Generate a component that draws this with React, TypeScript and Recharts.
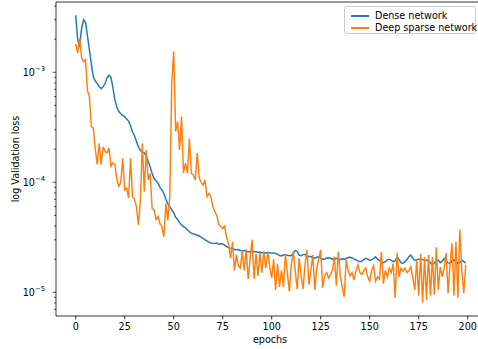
import { LineChart, Line, XAxis, YAxis, ReferenceLine } from 'recharts';

// validation loss per epoch (0..199)
const denseLoss = [
  3.3e-3, 2.0e-3, 1.7e-3, 2.5e-3, 3.0e-3, 2.85e-3, 2.15e-3, 1.6e-3, 1.18e-3, 9.1e-4,
  8.3e-4, 7.9e-4, 7.4e-4, 7.1e-4, 7.4e-4, 7.9e-4, 8.9e-4, 9.4e-4, 9.0e-4, 7.2e-4,
  5.6e-4, 4.8e-4, 4.4e-4, 4.2e-4, 4.05e-4, 3.95e-4, 3.75e-4, 3.6e-4, 3.25e-4, 2.85e-4,
  2.65e-4, 2.35e-4, 2.1e-4, 1.95e-4, 1.88e-4, 1.85e-4, 1.72e-4, 1.55e-4, 1.38e-4, 1.2e-4,
  1.08e-4, 1.03e-4, 9.8e-5, 9.0e-5, 8.5e-5, 7.9e-5, 7.0e-5, 6.4e-5, 6.0e-5, 5.6e-5,
  5.3e-5, 4.8e-5, 4.6e-5, 4.3e-5, 4.1e-5, 3.95e-5, 3.85e-5, 3.7e-5, 3.55e-5, 3.45e-5,
  3.4e-5, 3.35e-5, 3.3e-5, 3.25e-5, 3.17e-5, 3.1e-5, 3.0e-5, 2.93e-5, 2.86e-5, 2.8e-5,
  2.8e-5, 2.77e-5, 2.8e-5, 2.72e-5, 2.78e-5, 2.75e-5, 2.68e-5, 2.6e-5, 2.55e-5, 2.52e-5,
  2.5e-5, 2.45e-5, 2.43e-5, 2.45e-5, 2.4e-5, 2.38e-5, 2.4e-5, 2.36e-5, 2.34e-5, 2.34e-5,
  2.33e-5, 2.35e-5, 2.34e-5, 2.3e-5, 2.32e-5, 2.29e-5, 2.3e-5, 2.28e-5, 2.3e-5, 2.29e-5,
  2.27e-5, 2.28e-5, 2.26e-5, 2.22e-5, 2.16e-5, 2.14e-5, 2.18e-5, 2.2e-5, 2.17e-5, 2.15e-5,
  2.16e-5, 2.25e-5, 2.4e-5, 2.35e-5, 2.18e-5, 2.15e-5, 2.2e-5, 2.21e-5, 2.15e-5, 2.1e-5,
  2.12e-5, 2.06e-5, 2.04e-5, 2.08e-5, 2.1e-5, 2.06e-5, 2.0e-5, 2.0e-5, 2.05e-5, 2.06e-5,
  2.04e-5, 2.0e-5, 2.02e-5, 2.04e-5, 2.0e-5, 1.98e-5, 2.02e-5, 2.0e-5, 2.03e-5, 2.07e-5,
  2.08e-5, 2.05e-5, 2.0e-5, 1.97e-5, 1.93e-5, 1.9e-5, 1.92e-5, 1.98e-5, 2.04e-5, 2.0e-5,
  1.96e-5, 1.97e-5, 2.03e-5, 2.1e-5, 2.0e-5, 1.95e-5, 1.88e-5, 1.86e-5, 1.9e-5, 1.97e-5,
  2.0e-5, 1.95e-5, 1.9e-5, 1.93e-5, 2.1e-5, 1.98e-5, 1.85e-5, 1.84e-5, 1.9e-5, 1.98e-5,
  2.1e-5, 2.18e-5, 2.05e-5, 1.95e-5, 1.97e-5, 2.0e-5, 2.0e-5, 1.98e-5, 1.96e-5, 1.97e-5,
  1.92e-5, 1.86e-5, 1.78e-5, 1.85e-5, 1.97e-5, 1.96e-5, 1.86e-5, 1.92e-5, 2.03e-5, 1.95e-5,
  1.85e-5, 1.84e-5, 1.92e-5, 1.97e-5, 1.9e-5, 1.84e-5, 1.86e-5, 1.96e-5, 1.9e-5, 1.84e-5,
];

const sparseLoss = [
  1.8e-3, 1.5e-3, 2.05e-3, 1.35e-3, 1.25e-3, 1.3e-3, 6.8e-4, 6.0e-4, 3.2e-4, 3.1e-4,
  2.0e-4, 1.45e-4, 2.25e-4, 1.45e-4, 2.1e-4, 1.9e-4, 1.85e-4, 2.05e-4, 1.4e-4, 1.5e-4,
  1.45e-4, 1.05e-4, 9.2e-5, 1.0e-4, 1.65e-4, 8.5e-5, 8.8e-5, 7.2e-5, 1.65e-4, 7.4e-5,
  7.0e-5, 6.0e-5, 4.1e-5, 6.9e-5, 2.25e-4, 8.2e-5, 1.97e-4, 1.05e-4, 1.2e-4, 5.8e-5,
  5.6e-5, 4.6e-5, 4.9e-5, 4.2e-5, 3.95e-5, 3.2e-5, 6.4e-5, 4.5e-5, 7.4e-5, 7.9e-4,
  1.54e-3, 2.9e-4, 3.55e-4, 1.97e-4, 3.95e-4, 1.21e-4, 1.49e-4, 1.21e-4, 2.5e-4, 1.21e-4,
  1.16e-4, 1.05e-4, 1.84e-4, 1.1e-4, 1.0e-4, 9.4e-5, 1.05e-4, 7.4e-5, 7.9e-5, 7.4e-5,
  6.0e-5, 5.4e-5, 5.0e-5, 4.1e-5, 4.0e-5, 3.8e-5, 4.0e-5, 3.16e-5, 2.75e-5, 2.04e-5,
  2.88e-5, 1.58e-5, 2.19e-5, 1.74e-5, 1.66e-5, 2.34e-5, 1.58e-5, 2.45e-5, 1.32e-5, 2.0e-5,
  3.0e-5, 1.32e-5, 2.24e-5, 1.41e-5, 2.29e-5, 1.51e-5, 2.34e-5, 1.66e-5, 2.29e-5, 1.7e-5,
  1.35e-5, 2.0e-5, 1.05e-5, 1.82e-5, 1.12e-5, 1.58e-5, 1.12e-5, 2.24e-5, 1.48e-5, 1.02e-5,
  1.78e-5, 2.34e-5, 1.58e-5, 1.07e-5, 2.04e-5, 1.41e-5, 1.07e-5, 1.78e-5, 2.43e-5, 1.17e-5,
  1.58e-5, 2.19e-5, 1.05e-5, 1.66e-5, 2.0e-5, 2.43e-5, 1.1e-5, 1.41e-5, 1.51e-5, 1.35e-5,
  1.45e-5, 1.58e-5, 2.1e-5, 1.15e-5, 2.34e-5, 1.41e-5, 1.12e-5, 9.1e-6, 1.97e-5, 1.58e-5,
  1.41e-5, 1.51e-5, 1.29e-5, 1.58e-5, 1.78e-5, 1.51e-5, 1.45e-5, 1.58e-5, 1.66e-5, 1.38e-5,
  1.26e-5, 1.58e-5, 1.74e-5, 1.26e-5, 1.38e-5, 1.32e-5, 2.34e-5, 1.2e-5, 1.58e-5, 1.38e-5,
  1.66e-5, 1.51e-5, 1.82e-5, 8.9e-6, 2.29e-5, 1.38e-5, 1.66e-5, 1.55e-5, 1.66e-5, 1.51e-5,
  1.58e-5, 1.7e-5, 1.35e-5, 1.05e-5, 1.95e-5, 9.3e-6, 2.24e-5, 8.1e-6, 2.09e-5, 8.5e-6,
  2.19e-5, 9.3e-6, 2.09e-5, 9.5e-6, 2.57e-5, 1.05e-5, 1.7e-5, 1.38e-5, 1.66e-5, 2.26e-5,
  9.8e-6, 1.82e-5, 2.79e-5, 9.3e-6, 2.88e-5, 8.9e-6, 3.72e-5, 1.58e-5, 9.8e-6, 1.78e-5,
];

const xTicks = [0, 25, 50, 75, 100, 125, 150, 175, 200];
const yMajor = [1e-5, 1e-4, 1e-3];
const yMinor = [
  7e-6, 8e-6, 9e-6,
  2e-5, 3e-5, 4e-5, 5e-5, 6e-5, 7e-5, 8e-5, 9e-5,
  2e-4, 3e-4, 4e-4, 5e-4, 6e-4, 7e-4, 8e-4, 9e-4,
  2e-3, 3e-3, 4e-3,
];
const seriesNames = ['Dense network', 'Deep sparse network'];
const colors = ['#1f77b4', '#ff7f0e'];

const data = denseLoss.map((v, i) => ({ epoch: i, dense: v, sparse: sparseLoss[i] }));

const FONT = 'DejaVu Sans, sans-serif';
const Y_MIN = 6.09e-6;
const Y_MAX = 4.35e-3;

const YTick = ({ x, y, payload }: any) => {
  const v = payload.value;
  const major = yMajor.includes(v);
  const exp = Math.round(Math.log10(v));
  return (
    <g>
      <line x1={x} x2={x - (major ? 3.4 : 1.9)} y1={y} y2={y} stroke="#000" strokeWidth={0.7} />
      {major && (
        <text x={x - 11} y={y + 3.5} textAnchor="end" fontFamily={FONT} fontSize={9.6} fill="#000">
          10
          <tspan dy={-4.5} fontSize={6.8}>
            {'\u2212' + Math.abs(exp)}
          </tspan>
        </text>
      )}
    </g>
  );
};

const XTitle = () => (
  <text x={270} y={343} textAnchor="middle" fontFamily={FONT} fontSize={9.6} fill="#000">
    epochs
  </text>
);

const YTitle = () => (
  <text
    x={0}
    y={0}
    transform="translate(19 159) rotate(-90)"
    textAnchor="middle"
    fontFamily={FONT}
    fontSize={9.6}
    fill="#000"
  >
    log Validation loss
  </text>
);

const LegendBox = () => (
  <div
    style={{
      position: 'absolute',
      left: 344,
      top: 6,
      width: 132,
      height: 28,
      boxSizing: 'border-box',
      border: '1px solid #cccccc',
      borderRadius: 3,
      background: 'rgba(255,255,255,0.8)',
      fontFamily: FONT,
      fontSize: 9.6,
      color: '#000',
    }}
  >
    {seriesNames.map((name, i) => (
      <div key={name} style={{ position: 'absolute', left: 0, top: 3 + i * 12, height: 12, width: 132 }}>
        <div
          style={{
            position: 'absolute',
            left: 6,
            top: 5,
            width: 18,
            height: 1.5,
            background: colors[i],
          }}
        />
        <span style={{ position: 'absolute', left: 30, top: 0, lineHeight: '12px', whiteSpace: 'nowrap' }}>
          {name}
        </span>
      </div>
    ))}
  </div>
);

export default function App() {
  return (
    <div style={{ position: 'absolute', left: 0, top: 0, width: 478, height: 349, background: '#fff' }}>
      <LineChart width={478} height={349} data={data} margin={{ top: 2, right: 0, bottom: 0, left: 0 }}>
        <XAxis
          dataKey="epoch"
          type="number"
          domain={[-10.05, 205.26]}
          allowDataOverflow
          ticks={xTicks}
          height={33}
          tickSize={3.4}
          tickMargin={4}
          axisLine={{ stroke: '#000', strokeWidth: 0.8 }}
          tickLine={{ stroke: '#000', strokeWidth: 0.8 }}
          tick={{ fill: '#000', fontSize: 9.6, fontFamily: FONT }}
          label={{ content: XTitle }}
        />
        <YAxis
          type="number"
          scale="log"
          domain={[Y_MIN, Y_MAX]}
          allowDataOverflow
          ticks={[...yMajor, ...yMinor]}
          interval={0}
          width={56}
          tickSize={0}
          tickMargin={0}
          tickLine={false}
          axisLine={{ stroke: '#000', strokeWidth: 0.8 }}
          tick={<YTick />}
          label={{ content: YTitle }}
        />
        <ReferenceLine y={Y_MAX} stroke="#000" strokeWidth={0.8} ifOverflow="visible" />
        <Line
          dataKey="dense"
          name={seriesNames[0]}
          stroke={colors[0]}
          strokeWidth={1.45}
          dot={false}
          activeDot={false}
          isAnimationActive={false}
        />
        <Line
          dataKey="sparse"
          name={seriesNames[1]}
          stroke={colors[1]}
          strokeWidth={1.45}
          dot={false}
          activeDot={false}
          isAnimationActive={false}
        />
      </LineChart>
      <LegendBox />
    </div>
  );
}
